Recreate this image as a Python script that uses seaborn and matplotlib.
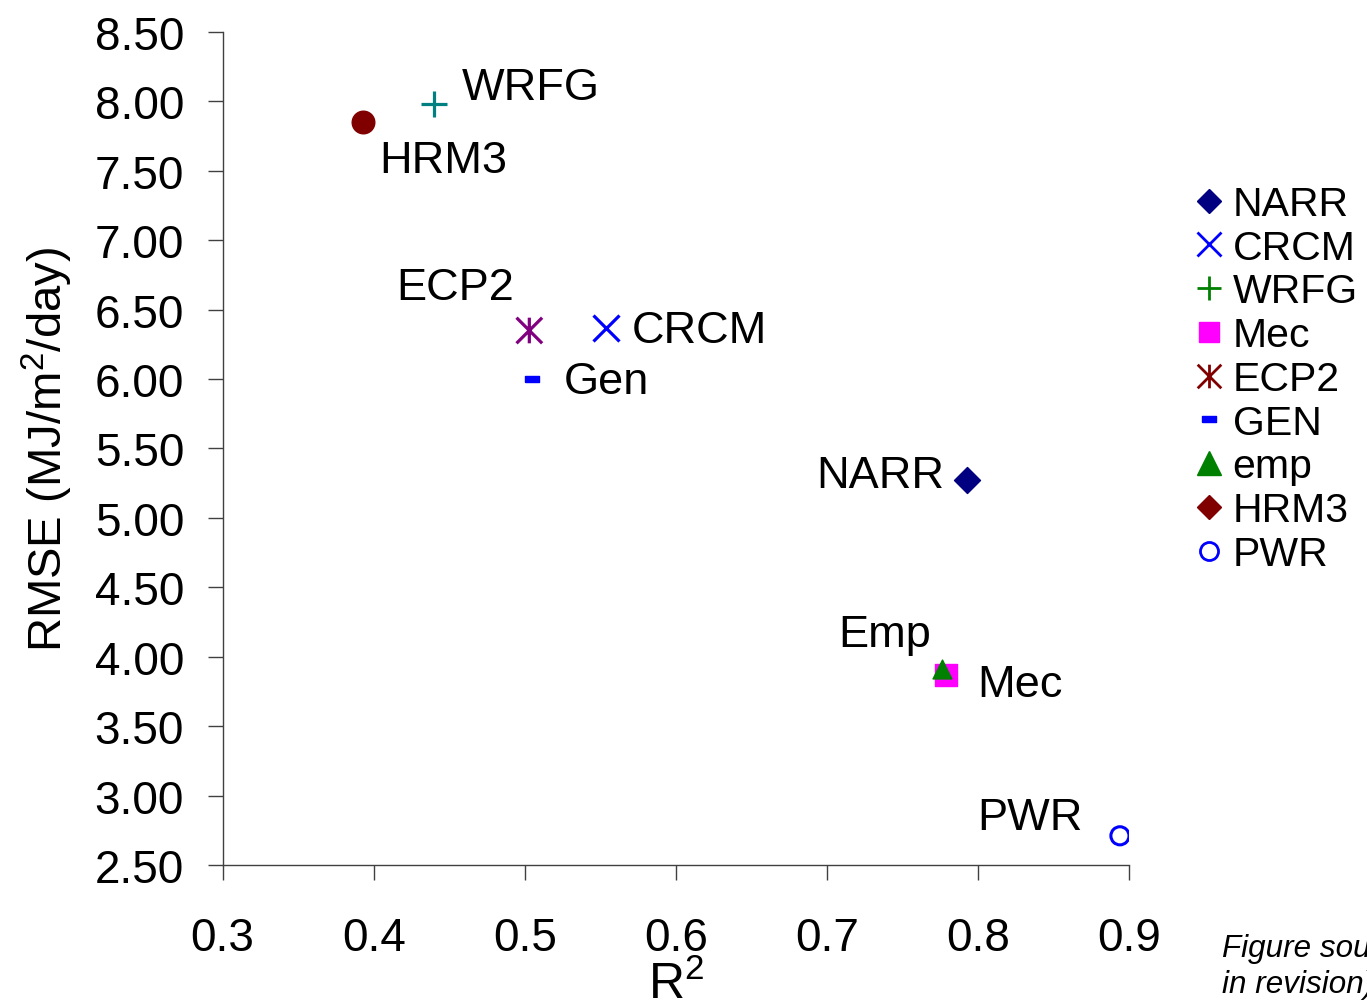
import numpy as np
import matplotlib
matplotlib.use("Agg")
import matplotlib.pyplot as plt
from matplotlib.path import Path
from matplotlib.lines import Line2D
import seaborn as sns

# data
names = ["NARR", "CRCM", "WRFG", "Mec", "ECP2", "Gen", "Emp", "HRM3", "PWR"]
r2 = [0.793, 0.554, 0.440, 0.779, 0.503, 0.505, 0.776, 0.393, 0.894]
rmse = [5.27, 6.37, 7.98, 3.87, 6.35, 6.00, 3.91, 7.85, 2.71]
legend_names = ["NARR", "CRCM", "WRFG", "Mec", "ECP2", "GEN", "emp", "HRM3", "PWR"]

x_ticks = [0.3, 0.4, 0.5, 0.6, 0.7, 0.8, 0.9]
y_ticks = [2.5, 3.0, 3.5, 4.0, 4.5, 5.0, 5.5, 6.0, 6.5, 7.0, 7.5, 8.0, 8.5]

# custom marker shapes (excel style)
asterisk = Path([(0, -1), (0, 1), (-1, -1), (1, 1), (-1, 1), (1, -1)],
                [Path.MOVETO, Path.LINETO, Path.MOVETO, Path.LINETO, Path.MOVETO, Path.LINETO])
dash = [(-1, -0.5), (1, -0.5), (1, 0.5), (-1, 0.5), (-1, -0.5)]

# point styles: marker, size, colour, filled, line width
point_style = {
    "NARR": dict(marker="D", s=175, color="#000080", fill=True, lw=1),
    "CRCM": dict(marker="x", s=350, color="#0000FF", fill=False, lw=2.3),
    "WRFG": dict(marker="+", s=330, color="#008080", fill=False, lw=2.3),
    "Mec": dict(marker="s", s=260, color="#FF00FF", fill=True, lw=1),
    "ECP2": dict(marker=asterisk, s=340, color="#800080", fill=False, lw=2.3),
    "Gen": dict(marker=dash, s=100, color="#0000FF", fill=True, lw=1),
    "Emp": dict(marker="^", s=185, color="#008000", fill=True, lw=1),
    "HRM3": dict(marker="o", s=265, color="#800000", fill=True, lw=1),
    "PWR": dict(marker="o", s=170, color="#0000FF", fill=False, lw=2.2),
}

# label offsets in pixels from the point, and horizontal alignment
label_pos = {
    "NARR": (-23, -7, "right"),
    "CRCM": (25, -14, "left"),
    "WRFG": (28, 5, "left"),
    "Mec": (31, -21, "left"),
    "ECP2": (-15, 31, "right"),
    "Gen": (31, -14, "left"),
    "Emp": (-11, 23, "right"),
    "HRM3": (16, -50, "left"),
    "PWR": (-37, 7, "right"),
}

legend_style = {
    "NARR": dict(marker="D", ms=12.5, color="#000080", fill=True),
    "CRCM": dict(marker="x", ms=17, color="#0000FF", fill=False),
    "WRFG": dict(marker="+", ms=17, color="#008000", fill=False),
    "Mec": dict(marker="s", ms=14, color="#FF00FF", fill=True),
    "ECP2": dict(marker=asterisk, ms=17, color="#800000", fill=False),
    "GEN": dict(marker=dash, ms=10, color="#0000FF", fill=True),
    "emp": dict(marker="^", ms=17, color="#008000", fill=True),
    "HRM3": dict(marker="D", ms=12.5, color="#800000", fill=True),
    "PWR": dict(marker="o", ms=13, color="#0000FF", fill=False),
}

sns.set_theme(style="ticks")
plt.rcParams["font.family"] = ["Liberation Sans", "DejaVu Sans"]
plt.rcParams["mathtext.fontset"] = "custom"
plt.rcParams["mathtext.rm"] = "Liberation Sans"
plt.rcParams["mathtext.default"] = "regular"
plt.rcParams["text.color"] = "black"
plt.rcParams["axes.labelcolor"] = "black"
plt.rcParams["xtick.labelcolor"] = "black"
plt.rcParams["ytick.labelcolor"] = "black"

fig = plt.figure(figsize=(13.67, 10.04), dpi=100)
ax = fig.add_axes([0.1629, 0.1375, 0.8259 - 0.1629, 0.9671 - 0.1375])

draw_order = ["NARR", "CRCM", "WRFG", "Mec", "ECP2", "Gen", "Emp", "HRM3", "PWR"]
for name in draw_order:
    i = names.index(name)
    st = point_style[name]
    if st["fill"]:
        sns.scatterplot(x=[r2[i]], y=[rmse[i]], marker=st["marker"], s=st["s"],
                        color=st["color"], edgecolor=st["color"], linewidth=st["lw"],
                        ax=ax, legend=False, zorder=3)
    elif st["marker"] in ("x", "+"):
        sns.scatterplot(x=[r2[i]], y=[rmse[i]], marker=st["marker"], s=st["s"],
                        color=st["color"], linewidth=st["lw"], ax=ax, legend=False, zorder=3)
    else:
        sns.scatterplot(x=[r2[i]], y=[rmse[i]], marker=st["marker"], s=st["s"],
                        color=st["color"], facecolor="none", edgecolor=st["color"],
                        linewidth=st["lw"], ax=ax, legend=False, zorder=3)
    dx, dy, ha = label_pos[name]
    ax.annotate(name, (r2[i], rmse[i]), xytext=(dx, dy), textcoords="offset pixels",
                ha=ha, va="baseline", fontsize=32.5, color="black")

ax.set_xlim(0.3, 0.9)
ax.set_ylim(2.5, 8.5)
ax.set_xticks(x_ticks)
ax.set_yticks(y_ticks)
ax.set_xticklabels([f"{v:.1f}" for v in x_ticks])
ax.set_yticklabels([f"{v:.2f}" for v in y_ticks])
ax.tick_params(axis="both", labelsize=33, length=10.8, width=1, color="#404040",
               direction="out", labelcolor="black")
ax.tick_params(axis="x", pad=26)
ax.tick_params(axis="y", pad=17)
for side in ["top", "right"]:
    ax.spines[side].set_visible(False)
for side in ["left", "bottom"]:
    ax.spines[side].set_color("#404040")
    ax.spines[side].set_linewidth(1)
ax.set_xlabel("R$^2$", fontsize=36, labelpad=0, color="black")
ax.set_ylabel("RMSE (MJ/m$^2$/day)", fontsize=34, labelpad=14, color="black")

handles = []
for lab in legend_names:
    st = legend_style[lab]
    if st["fill"]:
        h = Line2D([], [], linestyle="none", marker=st["marker"], markersize=st["ms"],
                   markerfacecolor=st["color"], markeredgecolor=st["color"])
    else:
        h = Line2D([], [], linestyle="none", marker=st["marker"], markersize=st["ms"],
                   markerfacecolor="none", markeredgecolor=st["color"], markeredgewidth=2)
    handles.append(h)
fig.legend(handles, legend_names, loc="upper left", bbox_to_anchor=(0.8757, 1 - 186 / 1004),
           frameon=False, fontsize=29.5, handlelength=0.57, handletextpad=0.3,
           labelspacing=0.14, borderpad=0, borderaxespad=0, labelcolor="black")

fig.text(1222 / 1367, 1 - 957 / 1004, "Figure source:", fontsize=22.6, style="italic",
         va="baseline", color="black")
fig.text(1222 / 1367, 1 - 993 / 1004, "in revision)", fontsize=22.6, style="italic",
         va="baseline", color="black")

fig.savefig("out.png", dpi=100)
